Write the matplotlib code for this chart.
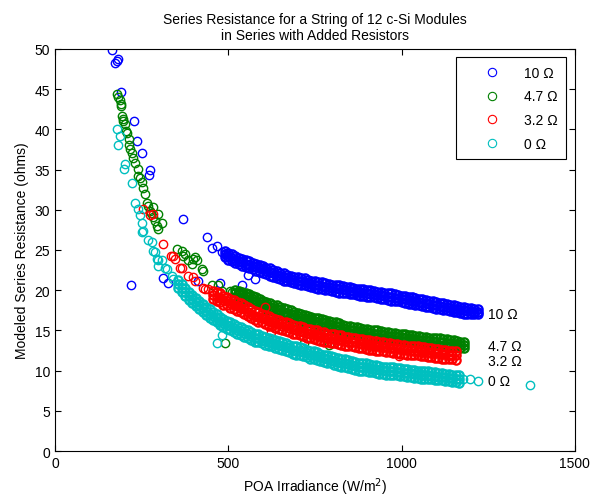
import numpy as np
import matplotlib
matplotlib.use("Agg")
import matplotlib.pyplot as plt

# --- data (irradiance W/m^2, resistance ohms) ---
series_labels = ["10 \u03a9", "4.7 \u03a9", "3.2 \u03a9", "0 \u03a9"]
series_colors = ["#0000ff", "#008000", "#ff0000", "#00bfbf"]

# sparse points at low irradiance / outliers
blue_irr_sc = [163, 173, 178, 182, 189, 229, 237, 250, 271, 274, 370, 439, 452,
               466, 481, 219, 312, 327, 413, 476, 540, 556, 577, 849, 908, 1032]
blue_res_sc = [49.9, 48.3, 48.5, 48.7, 44.7, 41.1, 38.5, 37.1, 34.3, 34.9, 28.8,
               26.6, 25.2, 25.5, 24.8, 20.6, 21.5, 20.9, 21.2, 20.85, 20.6, 21.9,
               21.4, 20.4, 19.9, 19.2]

green_irr_sc = [178, 183, 187, 189, 190, 192, 195, 197, 202, 205, 208, 212, 214,
                217, 221, 226, 230, 238, 240, 245, 250, 255, 260, 264, 268, 274,
                278, 284, 284, 288, 293, 298, 298, 308, 351, 365, 370, 375, 385,
                394, 399, 404, 409, 423, 428, 452, 471, 481, 490, 505, 510, 718, 791]
green_res_sc = [44.4, 44.0, 43.6, 42.9, 43.2, 41.7, 41.3, 41.0, 40.7, 39.8, 39.5,
                38.8, 38.0, 37.6, 37.1, 36.5, 35.8, 35.1, 34.2, 33.9, 33.4, 32.7,
                32.0, 30.9, 30.5, 29.9, 29.6, 29.1, 30.3, 28.6, 28.0, 29.5, 27.6,
                28.4, 25.1, 24.9, 24.3, 24.5, 23.7, 23.3, 23.9, 24.1, 23.7, 22.6,
                22.4, 20.6, 20.6, 19.95, 13.4, 19.9, 19.75, 13.4, 13.2]

red_irr_sc = [255, 274, 284, 312, 336, 341, 346, 360, 365, 385, 399, 404, 428,
              433, 442, 607, 623, 993]
red_res_sc = [30.1, 29.3, 29.5, 25.7, 24.3, 24.3, 23.9, 22.8, 22.7, 21.8, 21.6,
              21.2, 20.3, 20.2, 20.1, 17.9, 14.8, 11.8]

cyan_irr_sc = [178, 183, 187, 199, 202, 221, 231, 240, 245, 250, 250, 253, 269,
               279, 284, 288, 293, 298, 298, 308, 317, 322, 337, 341, 466, 481,
               1177, 1197, 1221, 1370]
cyan_res_sc = [40.0, 38.1, 39.2, 35.1, 35.7, 33.3, 30.9, 30.1, 29.3, 28.4, 27.2,
               27.4, 26.2, 26.0, 24.9, 24.7, 23.9, 23.0, 23.7, 23.7, 22.8, 22.6,
               21.8, 21.4, 13.4, 14.4, 8.9, 8.9, 8.75, 8.25]

# dense bands: upper edge, middle and lower edge of each band
blue_band_irr = [490, 500, 510, 520, 530, 540, 550, 560, 570, 580,
                 590, 600, 610, 620, 630, 640, 650, 660, 670, 680,
                 690, 700, 710, 720, 730, 740, 750, 760, 770, 780,
                 790, 800, 810, 820, 830, 840, 850, 860, 870, 880,
                 890, 900, 910, 920, 930, 940, 950, 960, 970, 980,
                 990, 1000, 1010, 1020, 1030, 1040, 1050, 1060, 1070, 1080,
                 1090, 1100, 1110, 1120, 1130, 1140, 1150, 1160, 1170, 1180,
                 1190, 1200, 1210, 1220]
blue_band_hi = [24.9, 24.6, 24.5, 24.2, 24.0, 23.9, 23.7, 23.6, 23.4, 23.3,
                23.1, 23.0, 22.8, 22.7, 22.5, 22.4, 22.2, 22.1, 21.9, 21.8,
                21.7, 21.6, 21.5, 21.5, 21.3, 21.2, 21.1, 21.0, 21.0, 20.9,
                20.8, 20.7, 20.7, 20.6, 20.5, 20.4, 20.4, 20.3, 20.2, 20.2,
                20.1, 20.0, 20.0, 19.9, 19.8, 19.8, 19.7, 19.6, 19.6, 19.5,
                19.4, 19.3, 19.3, 19.2, 19.1, 19.0, 18.9, 18.9, 18.8, 18.7,
                18.6, 18.5, 18.4, 18.4, 18.3, 18.2, 18.1, 18.0, 17.9, 17.9,
                17.8, 17.8, 17.7, 17.6]
blue_band_mid = [24.5, 24.2, 24.0, 23.8, 23.6, 23.45, 23.3, 23.15, 23.0, 22.85,
                 22.7, 22.6, 22.4, 22.25, 22.1, 21.95, 21.8, 21.65, 21.5, 21.4,
                 21.3, 21.2, 21.1, 21.0, 20.9, 20.8, 20.7, 20.6, 20.55, 20.45,
                 20.4, 20.3, 20.25, 20.15, 20.1, 20.0, 19.95, 19.9, 19.8, 19.75,
                 19.7, 19.6, 19.55, 19.5, 19.4, 19.35, 19.3, 19.2, 19.15, 19.05,
                 19.0, 18.9, 18.85, 18.75, 18.7, 18.6, 18.5, 18.45, 18.35, 18.3,
                 18.2, 18.1, 18.0, 17.95, 17.85, 17.8, 17.7, 17.65, 17.55, 17.5,
                 17.45, 17.4, 17.35, 17.3]
blue_band_lo = [24.1, 23.8, 23.6, 23.4, 23.2, 23.0, 22.9, 22.7, 22.6, 22.4,
                22.3, 22.2, 22.0, 21.8, 21.7, 21.5, 21.4, 21.2, 21.1, 21.0,
                20.9, 20.8, 20.7, 20.6, 20.5, 20.4, 20.3, 20.2, 20.1, 20.0,
                20.0, 19.9, 19.8, 19.7, 19.7, 19.6, 19.5, 19.5, 19.4, 19.3,
                19.3, 19.2, 19.1, 19.1, 19.0, 18.9, 18.9, 18.8, 18.7, 18.6,
                18.6, 18.5, 18.4, 18.3, 18.3, 18.2, 18.1, 18.0, 17.9, 17.9,
                17.8, 17.7, 17.6, 17.5, 17.5, 17.4, 17.3, 17.3, 17.2, 17.1,
                17.1, 17.0, 17.0, 17.0]

green_band_irr = [520, 530, 540, 550, 560, 570, 580, 590, 600, 610,
                  620, 630, 640, 650, 660, 670, 680, 690, 700, 710,
                  720, 730, 740, 750, 760, 770, 780, 790, 800, 810,
                  820, 830, 840, 850, 860, 870, 880, 890, 900, 910,
                  920, 930, 940, 950, 960, 970, 980, 990, 1000, 1010,
                  1020, 1030, 1040, 1050, 1060, 1070, 1080, 1090, 1100, 1110,
                  1120, 1130, 1140, 1150, 1160, 1170, 1180]
green_band_hi = [20.0, 19.9, 19.8, 19.7, 19.5, 19.3, 19.1, 18.9, 18.7, 18.5,
                 18.4, 18.2, 18.1, 17.9, 17.8, 17.6, 17.5, 17.3, 17.2, 17.0,
                 16.9, 16.8, 16.7, 16.6, 16.5, 16.4, 16.3, 16.2, 16.1, 16.0,
                 15.9, 15.7, 15.6, 15.5, 15.4, 15.4, 15.3, 15.2, 15.2, 15.1,
                 15.0, 15.0, 14.9, 14.8, 14.8, 14.7, 14.7, 14.6, 14.6, 14.5,
                 14.4, 14.4, 14.3, 14.3, 14.2, 14.2, 14.1, 14.1, 14.0, 14.0,
                 13.9, 13.9, 13.8, 13.8, 13.7, 13.6, 13.5]
green_band_mid = [19.6, 19.5, 19.4, 19.3, 19.1, 18.9, 18.7, 18.5, 18.25, 18.1,
                  17.95, 17.8, 17.65, 17.5, 17.35, 17.2, 17.05, 16.9, 16.75, 16.6,
                  16.5, 16.4, 16.3, 16.2, 16.1, 16.0, 15.9, 15.8, 15.7, 15.6,
                  15.5, 15.3, 15.2, 15.1, 15.0, 14.95, 14.9, 14.8, 14.75, 14.7,
                  14.6, 14.55, 14.5, 14.4, 14.35, 14.3, 14.25, 14.2, 14.15, 14.1,
                  14.0, 13.95, 13.9, 13.85, 13.8, 13.75, 13.7, 13.65, 13.6, 13.55,
                  13.5, 13.45, 13.4, 13.35, 13.3, 13.2, 13.15]
green_band_lo = [19.2, 19.1, 19.0, 18.9, 18.7, 18.5, 18.3, 18.1, 17.9, 17.7,
                 17.5, 17.4, 17.2, 17.1, 16.9, 16.8, 16.6, 16.5, 16.3, 16.2,
                 16.1, 16.0, 15.9, 15.8, 15.7, 15.6, 15.5, 15.4, 15.3, 15.2,
                 15.1, 14.9, 14.8, 14.7, 14.6, 14.5, 14.5, 14.4, 14.3, 14.3,
                 14.2, 14.1, 14.1, 14.0, 13.9, 13.9, 13.8, 13.8, 13.7, 13.7,
                 13.6, 13.5, 13.5, 13.4, 13.4, 13.3, 13.3, 13.2, 13.2, 13.1,
                 13.1, 13.0, 13.0, 12.9, 12.9, 12.8, 12.8]

red_band_irr = [456, 466, 476, 486, 496, 506, 516, 526, 536, 546,
                556, 566, 576, 586, 596, 606, 616, 626, 636, 646,
                656, 666, 676, 686, 696, 706, 716, 726, 736, 746,
                756, 766, 776, 786, 796, 806, 816, 826, 836, 846,
                856, 866, 876, 886, 896, 906, 916, 926, 936, 946,
                956, 966, 976, 986, 996, 1006, 1016, 1026, 1036, 1046,
                1056, 1066, 1076, 1086, 1096, 1106, 1116, 1126, 1136, 1146,
                1156]
red_band_hi = [19.9, 19.8, 19.6, 19.3, 19.2, 18.9, 18.8, 18.5, 18.4, 18.1,
               17.9, 17.6, 17.4, 17.3, 17.1, 16.9, 16.8, 16.6, 16.4, 16.3,
               16.1, 16.1, 15.9, 15.7, 15.6, 15.5, 15.4, 15.2, 15.2, 15.0,
               15.0, 14.8, 14.8, 14.6, 14.6, 14.5, 14.4, 14.4, 14.2, 14.2,
               14.1, 14.1, 13.9, 13.9, 13.8, 13.8, 13.7, 13.7, 13.5, 13.5,
               13.4, 13.4, 13.3, 13.3, 13.2, 13.2, 13.1, 13.1, 13.0, 13.0,
               12.9, 12.9, 12.8, 12.8, 12.7, 12.7, 12.6, 12.6, 12.5, 12.5,
               12.4]
red_band_mid = [19.4, 19.2, 19.0, 18.8, 18.6, 18.4, 18.2, 18.0, 17.8, 17.6,
                17.3, 17.1, 16.85, 16.7, 16.55, 16.4, 16.2, 16.05, 15.9, 15.75,
                15.6, 15.5, 15.35, 15.2, 15.05, 14.95, 14.85, 14.7, 14.6, 14.5,
                14.4, 14.3, 14.2, 14.1, 14.0, 13.95, 13.85, 13.8, 13.7, 13.6,
                13.55, 13.5, 13.4, 13.35, 13.3, 13.2, 13.15, 13.1, 13.0, 12.95,
                12.9, 12.85, 12.8, 12.75, 12.7, 12.65, 12.6, 12.55, 12.5, 12.45,
                12.4, 12.35, 12.3, 12.25, 12.2, 12.15, 12.1, 12.05, 12.0, 11.95,
                11.9]
red_band_lo = [18.9, 18.6, 18.5, 18.2, 18.1, 17.8, 17.7, 17.4, 17.3, 17.0,
               16.8, 16.5, 16.3, 16.1, 16.0, 15.8, 15.6, 15.5, 15.3, 15.2,
               15.0, 14.9, 14.8, 14.6, 14.5, 14.4, 14.3, 14.1, 14.0, 13.9,
               13.8, 13.7, 13.6, 13.5, 13.4, 13.4, 13.3, 13.2, 13.1, 13.0,
               13.0, 12.9, 12.8, 12.8, 12.7, 12.6, 12.6, 12.5, 12.4, 12.4,
               12.3, 12.3, 12.2, 12.2, 12.1, 12.1, 12.0, 12.0, 11.9, 11.9,
               11.8, 11.8, 11.7, 11.7, 11.6, 11.6, 11.5, 11.5, 11.4, 11.4,
               11.3]

cyan_band_irr = [356, 366, 376, 386, 396, 406, 416, 426, 436, 446,
                 456, 466, 476, 486, 496, 506, 516, 526, 536, 546,
                 556, 566, 576, 586, 596, 606, 616, 626, 636, 646,
                 656, 666, 676, 686, 696, 706, 716, 726, 736, 746,
                 756, 766, 776, 786, 796, 806, 816, 826, 836, 846,
                 856, 866, 876, 886, 896, 906, 916, 926, 936, 946,
                 956, 966, 976, 986, 996, 1006, 1016, 1026, 1036, 1046,
                 1056, 1066, 1076, 1086, 1096, 1106, 1116, 1126, 1136, 1146,
                 1156, 1166]
cyan_band_hi = [21.3, 20.8, 20.3, 19.8, 19.4, 19.0, 18.7, 18.3, 17.9, 17.6,
                17.3, 17.0, 16.7, 16.4, 16.2, 16.0, 15.8, 15.6, 15.4, 15.2,
                15.0, 14.8, 14.6, 14.5, 14.3, 14.2, 14.1, 13.9, 13.8, 13.7,
                13.5, 13.4, 13.2, 13.1, 13.0, 12.9, 12.8, 12.6, 12.5, 12.4,
                12.3, 12.1, 12.0, 11.9, 11.8, 11.7, 11.6, 11.5, 11.4, 11.3,
                11.2, 11.1, 11.0, 10.9, 10.9, 10.8, 10.7, 10.7, 10.6, 10.5,
                10.5, 10.4, 10.4, 10.3, 10.3, 10.2, 10.2, 10.1, 10.1, 10.0,
                10.0, 9.9, 9.9, 9.8, 9.8, 9.7, 9.7, 9.6, 9.6, 9.5,
                9.5, 9.4]
cyan_band_mid = [20.8, 20.3, 19.8, 19.3, 18.9, 18.5, 18.2, 17.8, 17.4, 17.1,
                 16.8, 16.5, 16.2, 15.9, 15.7, 15.5, 15.3, 15.1, 14.9, 14.7,
                 14.5, 14.3, 14.1, 14.0, 13.85, 13.7, 13.6, 13.45, 13.3, 13.2,
                 13.05, 12.9, 12.75, 12.6, 12.5, 12.4, 12.3, 12.15, 12.0, 11.9,
                 11.8, 11.65, 11.55, 11.45, 11.35, 11.2, 11.1, 11.0, 10.9, 10.8,
                 10.7, 10.6, 10.5, 10.45, 10.4, 10.3, 10.25, 10.2, 10.1, 10.05,
                 10.0, 9.95, 9.9, 9.85, 9.8, 9.75, 9.7, 9.65, 9.6, 9.55,
                 9.5, 9.45, 9.4, 9.35, 9.3, 9.25, 9.2, 9.15, 9.1, 9.05,
                 9.0, 8.95]
cyan_band_lo = [20.3, 19.8, 19.3, 18.8, 18.4, 18.0, 17.7, 17.3, 16.9, 16.6,
                16.3, 16.0, 15.7, 15.4, 15.2, 15.0, 14.8, 14.6, 14.4, 14.2,
                14.0, 13.8, 13.6, 13.5, 13.4, 13.2, 13.1, 13.0, 12.8, 12.7,
                12.6, 12.4, 12.3, 12.1, 12.0, 11.9, 11.8, 11.7, 11.5, 11.4,
                11.3, 11.2, 11.1, 11.0, 10.9, 10.7, 10.6, 10.5, 10.4, 10.3,
                10.2, 10.1, 10.0, 10.0, 9.9, 9.8, 9.8, 9.7, 9.6, 9.6,
                9.5, 9.5, 9.4, 9.4, 9.3, 9.3, 9.2, 9.2, 9.1, 9.1,
                9.0, 9.0, 8.9, 8.9, 8.8, 8.8, 8.8, 8.7, 8.7, 8.6,
                8.6, 8.5]

# end-of-curve annotations (irradiance, resistance)
label_irr = [1250, 1250, 1250, 1250]
label_res = [17.1, 13.1, 11.2, 8.65]

scatter = [
    (blue_irr_sc, blue_res_sc),
    (green_irr_sc, green_res_sc),
    (red_irr_sc, red_res_sc),
    (cyan_irr_sc, cyan_res_sc),
]
bands = [
    (blue_band_irr, [blue_band_hi, blue_band_mid, blue_band_lo]),
    (green_band_irr, [green_band_hi, green_band_mid, green_band_lo]),
    (red_band_irr, [red_band_hi, red_band_mid, red_band_lo]),
    (cyan_band_irr, [cyan_band_hi, cyan_band_mid, cyan_band_lo]),
]

plt.rcParams["font.family"] = ["Liberation Sans", "DejaVu Sans"]
plt.rcParams["font.size"] = 10

fig = plt.figure(figsize=(5.92, 5.02), dpi=100)
ax = fig.add_axes([0.093, 0.0996, 0.878, 0.8008])

for (sx, sy), (bx, rows), lab, col in zip(scatter, bands, series_labels, series_colors):
    ax.plot(sx, sy, "o", ls="none", mfc="none", mec=col, ms=6, mew=1.0, label=lab)
    for by in rows:
        # the dense part of each curve: heavier rings so it reads as a solid band
        ax.plot(bx, by, "o", ls="none", mfc="none", mec=col, ms=6, mew=1.6)

for xi, yi, lab in zip(label_irr, label_res, series_labels):
    ax.text(xi, yi, lab, ha="left", va="center", fontsize=10)

ax.set_xlim(0, 1500)
ax.set_ylim(0, 50)
ax.set_xticks([0, 500, 1000, 1500])
ax.set_yticks(np.arange(0, 51, 5))
ax.tick_params(direction="in", top=True, right=True, length=4, width=0.8)
for sp in ax.spines.values():
    sp.set_linewidth(0.8)

ax.set_xlabel("POA Irradiance (W/m$^2$)")
ax.set_ylabel("Modeled Series Resistance (ohms)")
ax.set_title("Series Resistance for a String of 12 c-Si Modules\nin Series with Added Resistors",
             fontsize=10, pad=7)

leg = ax.legend(loc="upper right", fancybox=False, edgecolor="black", framealpha=1,
                borderaxespad=0.6, handletextpad=0.4, labelspacing=0.7,
                borderpad=0.6, handlelength=3.9)
leg.get_frame().set_linewidth(0.8)
for h in leg.legend_handles:
    h.set_markeredgewidth(0.8)

fig.savefig("out.png", dpi=100)
